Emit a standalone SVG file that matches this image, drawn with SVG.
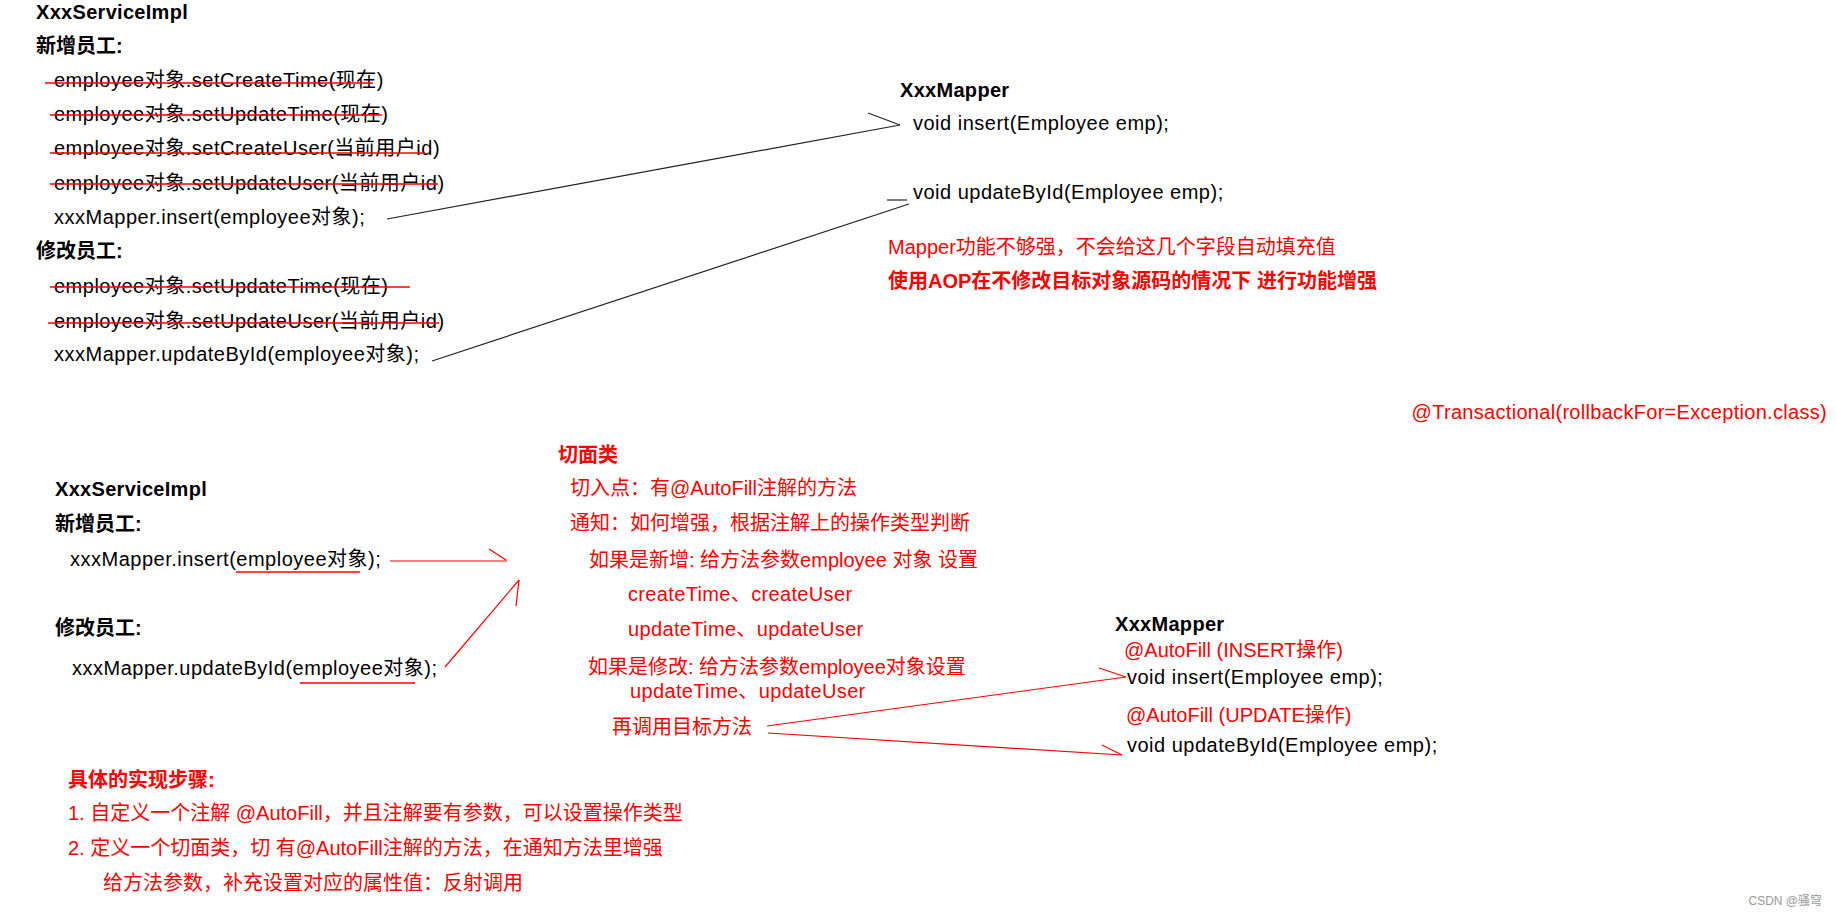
<svg xmlns="http://www.w3.org/2000/svg" width="1836" height="914" viewBox="0 0 1836 914">
<style>
text{font-family:"Liberation Sans","Noto Sans CJK SC",sans-serif;font-size:20px;fill:#000}
.b{font-weight:bold}
.h{letter-spacing:0.3px}
.c{letter-spacing:0.5px}
.m{letter-spacing:0.35px}
.r{fill:#ff0000}
.strike{stroke:#ff0000;stroke-width:1.3;fill:none}
.blk{stroke:#222;stroke-width:1.2;fill:none}
.red{stroke:#ff0000;stroke-width:1.2;fill:none}
.wm{font-size:12px;fill:#999}
</style>
<rect width="1836" height="914" fill="#fff"/>

<g id="top-service">
<text class="b h" x="36" y="19">XxxServiceImpl</text>
<text class="b" x="36" y="53">新增员工:</text>
<text class="c" x="54" y="87">employee对象.setCreateTime(现在)</text>
<text class="c" x="54" y="121">employee对象.setUpdateTime(现在)</text>
<text class="c" x="54" y="155">employee对象.setCreateUser(当前用户id)</text>
<text class="c" x="54" y="190">employee对象.setUpdateUser(当前用户id)</text>
<text class="c" x="54" y="224">xxxMapper.insert(employee对象);</text>
<text class="b" x="36" y="258">修改员工:</text>
<text class="c" x="54" y="293">employee对象.setUpdateTime(现在)</text>
<text class="c" x="54" y="328">employee对象.setUpdateUser(当前用户id)</text>
<text class="c" x="54" y="361">xxxMapper.updateById(employee对象);</text>
<line class="strike" x1="45" y1="83" x2="373" y2="83"/>
<line class="strike" x1="50" y1="115" x2="382" y2="115"/>
<line class="strike" x1="50" y1="153" x2="425" y2="153"/>
<line class="strike" x1="50" y1="184" x2="438" y2="184"/>
<line class="strike" x1="50" y1="287" x2="410" y2="287"/>
<line class="strike" x1="48" y1="323" x2="439" y2="323"/>
</g>

<g id="top-mapper">
<text class="b h" x="900" y="97">XxxMapper</text>
<text class="c" x="913" y="130">void insert(Employee emp);</text>
<text class="c" x="913" y="199">void updateById(Employee emp);</text>
</g>

<g id="mapper-note">
<text class="r" x="888" y="254">Mapper功能不够强，不会给这几个字段自动填充值</text>
<text class="r b" x="888" y="288">使用AOP在不修改目标对象源码的情况下 进行功能增强</text>
</g>

<g id="transactional">
<text class="r h" x="1827" y="419" text-anchor="end">@Transactional(rollbackFor=Exception.class)</text>
</g>

<g id="bottom-service">
<text class="b h" x="55" y="496">XxxServiceImpl</text>
<text class="b" x="55" y="531">新增员工:</text>
<text class="c" x="70" y="566">xxxMapper.insert(employee对象);</text>
<text class="b" x="55" y="635">修改员工:</text>
<text class="c" x="72" y="675">xxxMapper.updateById(employee对象);</text>
<line class="strike" x1="236" y1="572" x2="360" y2="572"/>
<line class="strike" x1="300" y1="683" x2="415" y2="683"/>
</g>

<g id="aspect">
<text class="r b" x="558" y="462">切面类</text>
<text class="r" x="570" y="495">切入点：有@AutoFill注解的方法</text>
<text class="r" x="570" y="530">通知：如何增强，根据注解上的操作类型判断</text>
<text class="r" x="589" y="567">如果是新增: 给方法参数employee 对象 设置</text>
<text class="r m" x="628" y="601">createTime、createUser</text>
<text class="r m" x="628" y="636">updateTime、updateUser</text>
<text class="r" x="588" y="674">如果是修改: 给方法参数employee对象设置</text>
<text class="r m" x="630" y="698">updateTime、updateUser</text>
<text class="r" x="612" y="734">再调用目标方法</text>
</g>

<g id="bottom-mapper">
<text class="b h" x="1115" y="631">XxxMapper</text>
<text class="r" x="1124" y="657">@AutoFill (INSERT操作)</text>
<text class="c" x="1127" y="684">void insert(Employee emp);</text>
<text class="r" x="1126" y="722">@AutoFill (UPDATE操作)</text>
<text class="c" x="1127" y="752">void updateById(Employee emp);</text>
</g>

<g id="steps">
<text class="r b" x="68" y="787">具体的实现步骤:</text>
<text class="r" x="68" y="820">1. 自定义一个注解 @AutoFill，并且注解要有参数，可以设置操作类型</text>
<text class="r" x="68" y="855">2. 定义一个切面类，切 有@AutoFill注解的方法，在通知方法里增强</text>
<text class="r" x="103" y="890">给方法参数，补充设置对应的属性值：反射调用</text>
</g>

<g id="watermark">
<text class="wm" x="1822" y="905" text-anchor="end">CSDN @骚穹</text>
</g>

<g id="connectors">
<line class="blk" x1="387" y1="219" x2="900" y2="125"/>
<line class="blk" x1="868" y1="113" x2="900" y2="125"/>
<line class="blk" x1="432" y1="361" x2="909" y2="204"/>
<line class="blk" x1="887" y1="200" x2="907" y2="200"/>
<line class="red" x1="390" y1="561" x2="507" y2="561"/>
<line class="red" x1="489" y1="549" x2="506" y2="560"/>
<line class="red" x1="445" y1="667" x2="519" y2="580"/>
<line class="red" x1="519" y1="580" x2="516" y2="606"/>
<line class="red" x1="767" y1="726" x2="1126" y2="677"/>
<line class="red" x1="1099" y1="668" x2="1126" y2="677"/>
<line class="red" x1="768" y1="733" x2="1122" y2="755"/>
<line class="red" x1="1102" y1="745" x2="1122" y2="755"/>
</g>
</svg>
